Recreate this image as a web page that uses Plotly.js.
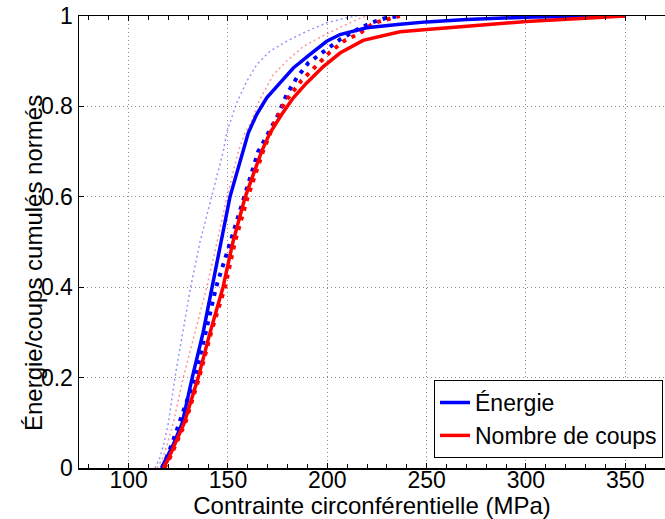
<!DOCTYPE html>
<html>
<head>
<meta charset="utf-8">
<script src="https://cdn.plot.ly/plotly-3.0.1.min.js"></script>
<style>
html, body { margin: 0; padding: 0; background: #fff; overflow: hidden; }
#chart { width: 665px; height: 519px; }
</style>
</head>
<body>
<div id="chart"></div>
<script>
// Contrainte (MPa) / valeurs cumulées normées
// Essai 1 (traits pleins)
const energie1X = [116.5, 119, 122.3, 127, 132, 137.5, 141.8, 144, 146.5, 151, 157.7, 160.2, 164.4, 169.5, 176.2, 182.9, 191.3, 199.7, 206.4, 219.8, 236.6, 250, 270.1, 303.6, 350];
const energie1Y = [0, 0.02, 0.05, 0.1, 0.2, 0.3, 0.4, 0.45, 0.5, 0.6, 0.7, 0.741, 0.782, 0.819, 0.852, 0.885, 0.915, 0.944, 0.959, 0.974, 0.982, 0.987, 0.992, 0.998, 1];
const coups1X = [117.5, 120, 123, 128, 135, 141, 147.5, 150, 152.5, 158.7, 166.9, 171.1, 177, 182.9, 189.6, 198, 206.4, 218, 236.6, 250, 270.1, 300.3, 350];
const coups1Y = [0, 0.02, 0.05, 0.1, 0.2, 0.3, 0.4, 0.45, 0.5, 0.6, 0.7, 0.741, 0.782, 0.819, 0.852, 0.888, 0.918, 0.946, 0.965, 0.970, 0.977, 0.988, 1];
// Essai 2 (gros pointillés)
const energie2X = [117, 119, 121.5, 125.5, 133.4, 138.8, 144, 151.2, 158, 165.2, 170.3, 175.3, 179.5, 184.6, 190.4, 196.3, 206.4, 215, 222, 229, 236.5];
const energie2Y = [0, 0.02, 0.05, 0.1, 0.2, 0.3, 0.4, 0.5, 0.6, 0.7, 0.741, 0.782, 0.826, 0.863, 0.896, 0.915, 0.948, 0.97, 0.985, 0.995, 1];
const coups2X = [118, 120.5, 123.5, 128.5, 135.5, 141.5, 148.5, 153.5, 160, 167.6, 173, 178.7, 187, 194.6, 201.3, 208.5, 216.4, 223.1, 231.5, 236.5];
const coups2Y = [0, 0.02, 0.05, 0.1, 0.2, 0.3, 0.4, 0.5, 0.6, 0.7, 0.76, 0.81, 0.857, 0.89, 0.92, 0.945, 0.962, 0.984, 0.995, 1];
// Essai 3 (petits pointillés clairs)
const energie3X = [113.2, 115.5, 117.5, 120, 123.3, 127.2, 131.2, 135.9, 141.8, 147.6, 149.3, 151.8, 154.4, 159.4, 164.4, 171.1, 179.5, 189.6, 199.7, 209.7, 214.8];
const energie3Y = [0, 0.02, 0.05, 0.1, 0.2, 0.3, 0.4, 0.5, 0.6, 0.7, 0.741, 0.774, 0.808, 0.855, 0.892, 0.922, 0.944, 0.966, 0.985, 0.996, 1];
const coups3X = [114.3, 117, 119.3, 122.5, 127.5, 133.5, 139.3, 144.5, 149.5, 155.2, 158.5, 161.9, 165.2, 172.8, 179.5, 188, 199, 209, 216.4, 220];
const coups3Y = [0, 0.02, 0.05, 0.1, 0.2, 0.3, 0.4, 0.5, 0.6, 0.7, 0.741, 0.767, 0.808, 0.870, 0.9, 0.933, 0.959, 0.98, 0.995, 1];

const xTickVals = [100, 150, 200, 250, 300, 350];
const yTickVals = [0, 0.2, 0.4, 0.6, 0.8, 1];

const FONT = 'Liberation Sans, Arial, Helvetica, sans-serif';
const BLUE = '#0000ff', RED = '#ff0000';

const traces = [
  {x: energie3X, y: energie3Y, mode: 'lines', showlegend: false, name: 'Énergie (3)',
   line: {color: 'rgba(60,60,255,0.55)', width: 1.5, dash: '2px,3px'}},
  {x: coups3X, y: coups3Y, mode: 'lines', showlegend: false, name: 'Nombre de coups (3)',
   line: {color: 'rgba(255,60,60,0.55)', width: 1.5, dash: '2px,3px'}},
  {x: energie2X, y: energie2Y, mode: 'lines', showlegend: false, name: 'Énergie (2)',
   line: {color: BLUE, width: 4, dash: '4px,6px'}},
  {x: coups2X, y: coups2Y, mode: 'lines', showlegend: false, name: 'Nombre de coups (2)',
   line: {color: RED, width: 4, dash: '4px,6px'}},
  {x: energie1X, y: energie1Y, mode: 'lines', name: 'Énergie',
   line: {color: BLUE, width: 3.5}},
  {x: coups1X, y: coups1Y, mode: 'lines', name: 'Nombre de coups',
   line: {color: RED, width: 3.5}}
];

const layout = {
  width: 665, height: 519,
  margin: {l: 79, r: 0, t: 16, b: 51, pad: 0},
  paper_bgcolor: '#fff', plot_bgcolor: '#fff',
  font: {family: FONT, color: '#000', size: 23},
  showlegend: true,
  legend: {
    x: 0.9966, xanchor: 'right', y: 0.022, yanchor: 'bottom',
    bgcolor: '#fff', bordercolor: '#000', borderwidth: 1,
    font: {family: FONT, size: 23, color: '#000'},
    traceorder: 'normal', itemwidth: 30, tracegroupgap: 0
  },
  xaxis: {
    range: [75, 370], tickvals: xTickVals, ticktext: xTickVals.map(String),
    ticks: 'inside', ticklen: 5, tickwidth: 1, tickcolor: '#000',
    ticklabelstandoff: -9,
    showline: true, linecolor: '#000', linewidth: 1.5, mirror: 'ticks',
    showgrid: true, gridcolor: '#8c8c8c', griddash: '1px,3px', gridwidth: 1,
    zeroline: false, tickfont: {family: FONT, size: 23},
    minor: {dtick: 10, tick0: 0, ticks: 'inside', ticklen: 4, tickcolor: '#000', showgrid: false},
    title: {text: 'Contrainte circonférentielle (MPa)', font: {family: FONT, size: 24}, standoff: 6}
  },
  yaxis: {
    range: [0, 1], tickvals: yTickVals, ticktext: ['0', '0.2', '0.4', '0.6', '0.8', '1'],
    ticks: 'inside', ticklen: 5, tickwidth: 1, tickcolor: '#000',
    showline: true, linecolor: '#000', linewidth: 1.5, mirror: false,
    showgrid: true, gridcolor: '#8c8c8c', griddash: '1px,3px', gridwidth: 1,
    zeroline: false, tickfont: {family: FONT, size: 23}
  },
  annotations: [{
    text: 'Énergie/coups cumulés normés', textangle: -90,
    xref: 'paper', yref: 'paper', x: -0.0785, y: 0.4535,
    xanchor: 'center', yanchor: 'middle', showarrow: false,
    font: {family: FONT, size: 24, color: '#000'}
  }]
};

Plotly.newPlot('chart', traces, layout, {displayModeBar: false, staticPlot: true});
</script>
</body>
</html>
